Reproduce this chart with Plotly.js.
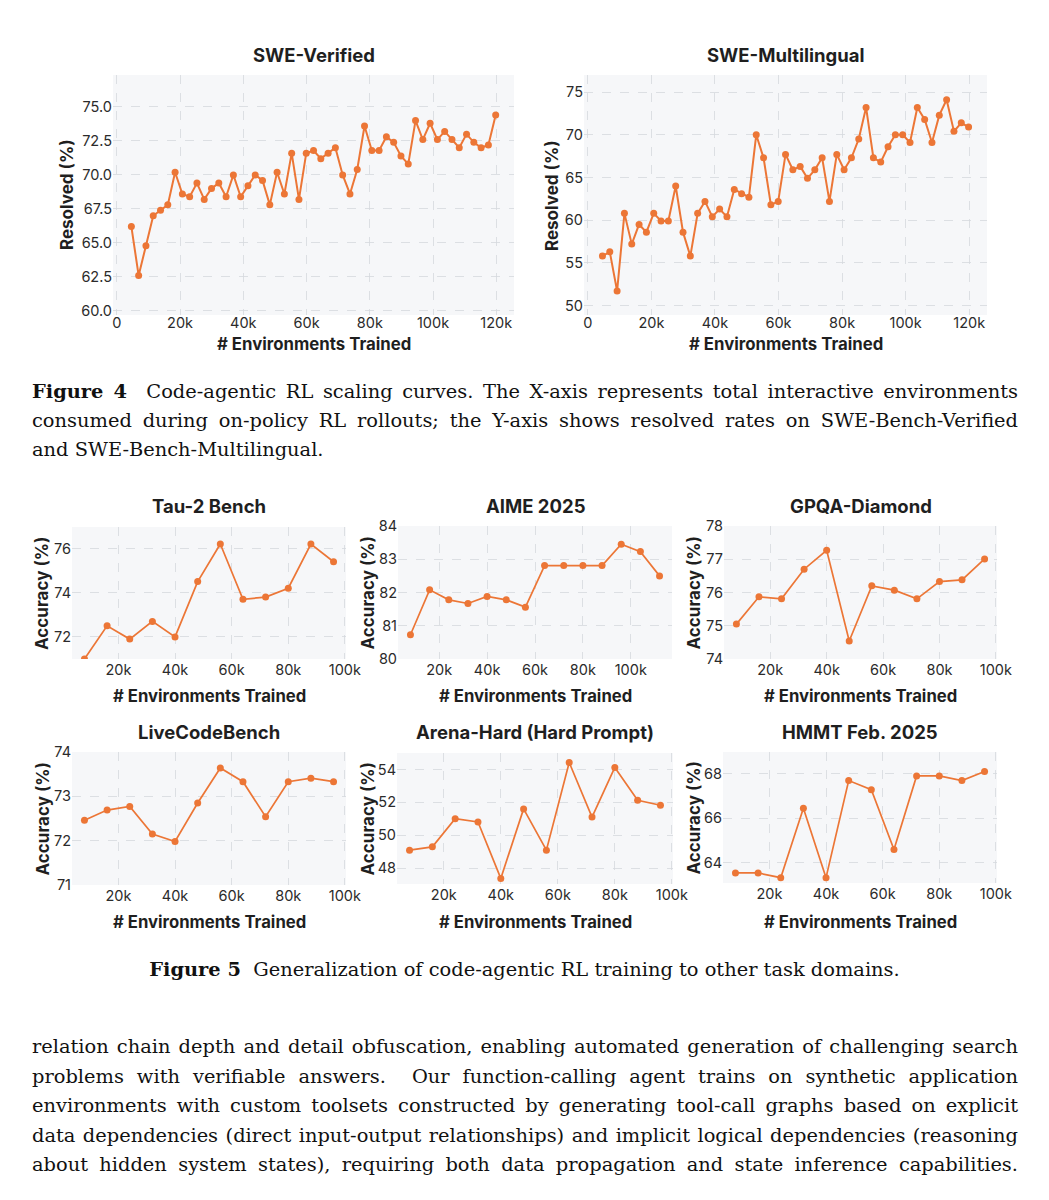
<!DOCTYPE html>
<html>
<head>
<meta charset="utf-8">
<script src="https://cdn.plot.ly/plotly-3.0.1.min.js"></script>
<style>
  html, body { margin:0; padding:0; background:#fff; }
  #wrap { position:relative; width:1049px; height:1200px; overflow:hidden; }
  #chart { position:absolute; left:0; top:0; width:1049px; height:1200px; }
  .ln { position:absolute; left:32px; width:986px; font-family:"DejaVu Serif", serif; font-size:19px;
        color:#111; white-space:nowrap; text-align:justify; text-align-last:justify; line-height:26px; z-index:5; }
  .ln.left { text-align:left; text-align-last:left; }
  .cap5 { position:absolute; left:0; width:1049px; text-align:center; font-family:"DejaVu Serif", serif;
          font-size:19px; color:#111; white-space:nowrap; line-height:26px; z-index:5; }
  #measure { position:absolute; left:0; top:0; visibility:hidden; white-space:nowrap; font-family:"DejaVu Serif", serif; }
</style>
</head>
<body>
<div id="wrap">
  <div id="chart"></div>
  <div class="ln" style="top:379px;"><b>Figure 4</b>&nbsp; Code-agentic RL scaling curves. The X-axis represents total interactive environments</div>
  <div class="ln" style="top:408px;">consumed during on-policy RL rollouts; the Y-axis shows resolved rates on SWE-Bench-Verified</div>
  <div class="ln left" style="top:437px;">and SWE-Bench-Multilingual.</div>
  <div class="cap5" style="top:957px;"><b>Figure 5</b>&nbsp; Generalization of code-agentic RL training to other task domains.</div>
  <div class="ln" style="top:1034px;">relation chain depth and detail obfuscation, enabling automated generation of challenging search</div>
  <div class="ln" style="top:1064px;">problems with verifiable answers.&nbsp; Our function-calling agent trains on synthetic application</div>
  <div class="ln" style="top:1093px;">environments with custom toolsets constructed by generating tool-call graphs based on explicit</div>
  <div class="ln" style="top:1123px;">data dependencies (direct input-output relationships) and implicit logical dependencies (reasoning</div>
  <div class="ln" style="top:1152px;">about hidden system states), requiring both data propagation and state inference capabilities.</div>
  <span id="measure"></span>
</div>
<script>
// ---------------- DATA ----------------
const sweSteps = [4608, 6912, 9216, 11520, 13824, 16128, 18432, 20736, 23040, 25344, 27648, 29952, 32256, 34560, 36864, 39168, 41472, 43776, 46080, 48384, 50688, 52992, 55296, 57600, 59904, 62208, 64512, 66816, 69120, 71424, 73728, 76032, 78336, 80640, 82944, 85248, 87552, 89856, 92160, 94464, 96768, 99072, 101376, 103680, 105984, 108288, 110592, 112896, 115200, 117504, 119808];
const sweVerified = [66.2, 62.6, 64.8, 67.0, 67.4, 67.8, 70.2, 68.6, 68.4, 69.4, 68.2, 69.0, 69.4, 68.4, 70.0, 68.4, 69.2, 70.0, 69.6, 67.8, 70.2, 68.6, 71.6, 68.2, 71.6, 71.8, 71.2, 71.6, 72.0, 70.0, 68.6, 70.4, 73.6, 71.8, 71.8, 72.8, 72.4, 71.4, 70.8, 74.0, 72.6, 73.8, 72.6, 73.2, 72.6, 72.0, 73.0, 72.4, 72.0, 72.2, 74.4];
const sweMultilingual = [55.8, 56.3, 51.7, 60.8, 57.2, 59.5, 58.6, 60.8, 59.9, 59.9, 64.0, 58.6, 55.8, 60.8, 62.2, 60.4, 61.3, 60.4, 63.6, 63.1, 62.7, 70.0, 67.3, 61.8, 62.2, 67.7, 65.9, 66.3, 64.9, 65.9, 67.3, 62.2, 67.7, 65.9, 67.3, 69.5, 73.2, 67.3, 66.8, 68.6, 70.0, 70.0, 69.1, 73.2, 71.8, 69.1, 72.3, 74.1, 70.4, 71.4, 70.9];

const genSteps  = [8000, 16000, 24000, 32000, 40000, 48000, 56000, 64000, 72000, 80000, 88000, 96000];
const aimeSteps = [8000, 16000, 24000, 32000, 40000, 48000, 56000, 64000, 72000, 80000, 88000, 96000, 104000, 112000];
const tau2Bench = [71.0, 72.5, 71.9, 72.7, 72.0, 74.5, 76.2, 73.7, 73.8, 74.2, 76.2, 75.4];
const aime2025  = [80.73, 82.08, 81.78, 81.67, 81.88, 81.78, 81.56, 82.81, 82.81, 82.81, 82.81, 83.45, 83.23, 82.5];
const gpqaDiamond = [75.05, 75.87, 75.81, 76.70, 77.27, 74.54, 76.20, 76.07, 75.81, 76.33, 76.38, 77.01];
const liveCodeBench = [72.46, 72.69, 72.77, 72.15, 71.98, 72.85, 73.64, 73.33, 72.54, 73.33, 73.41, 73.33];
const arenaHard = [49.09, 49.29, 51.0, 50.8, 47.37, 51.6, 49.09, 54.42, 51.1, 54.12, 52.12, 51.82];
const hmmtFeb2025 = [63.55, 63.55, 63.34, 66.45, 63.34, 67.69, 67.28, 64.6, 67.9, 67.9, 67.69, 68.1];

const xTickVals = [0, 20000, 40000, 60000, 80000, 100000, 120000];
const xTickText = ["0", "20k", "40k", "60k", "80k", "100k", "120k"];

const panelTitles = ["SWE-Verified", "SWE-Multilingual", "Tau-2 Bench", "AIME 2025", "GPQA-Diamond",
                     "LiveCodeBench", "Arena-Hard (Hard Prompt)", "HMMT Feb. 2025"];
const xLabel = "# Environments Trained";
const yLabelsTop = "Resolved (%)";
const yLabelsBottom = "Accuracy (%)";

// ---------------- LAYOUT ----------------
const W = 1049, H = 1200;
const fx = p => p / W;
const fy = p => 1 - p / H;
const ORANGE = "#EC7636";

const panels = [
  {x: sweSteps, y: sweVerified, dom: [113, 514, 75, 315], xr: [-1200, 125600], yr: [59.7, 77.35],
   yt: [60, 62.5, 65, 67.5, 70, 72.5, 75], yfmt: ".1f", titleY: 55, xtY: 344, ytX: 67, big: true},
  {x: sweSteps, y: sweMultilingual, dom: [584, 987, 75, 315], xr: [-1200, 125600], yr: [48.9, 77.0],
   yt: [50, 55, 60, 65, 70, 75], yfmt: "d", titleY: 55, xtY: 344, ytX: 552, big: true},
  {x: genSteps, y: tau2Bench, dom: [72, 346, 527, 659], xr: [3600, 100400], yr: [71.0, 76.97],
   yt: [72, 74, 76], yfmt: "d", titleY: 506, xtY: 696, ytX: 42},
  {x: aimeSteps, y: aime2025, dom: [398, 672, 526, 659], xr: [2800, 117200], yr: [80, 84],
   yt: [80, 81, 82, 83, 84], yfmt: "d", titleY: 506, xtY: 696, ytX: 367},
  {x: genSteps, y: gpqaDiamond, dom: [724, 997, 526, 659], xr: [3600, 100400], yr: [74, 78],
   yt: [74, 75, 76, 77, 78], yfmt: "d", titleY: 506, xtY: 696, ytX: 693},
  {x: genSteps, y: liveCodeBench, dom: [72, 346, 752, 885], xr: [3600, 100400], yr: [71, 74],
   yt: [71, 72, 73, 74], yfmt: "d", titleY: 732, xtY: 922, ytX: 42},
  {x: genSteps, y: arenaHard, dom: [397, 673, 753, 884], xr: [3600, 100400], yr: [47.03, 55.0],
   yt: [48, 50, 52, 54], yfmt: "d", titleY: 732, xtY: 922, ytX: 367},
  {x: genSteps, y: hmmtFeb2025, dom: [723, 997, 752, 883], xr: [3600, 100400], yr: [63.1, 68.97],
   yt: [64, 66, 68], yfmt: "d", titleY: 732, xtY: 922, ytX: 693}
];

const traces = [];
const layout = {
  width: W, height: H,
  margin: {l: 0, r: 0, t: 0, b: 0},
  paper_bgcolor: "#ffffff",
  plot_bgcolor: "#F6F7F9",
  showlegend: false,
  annotations: []
};

const tickFont = {family: "Inter, 'Open Sans', sans-serif", size: 14.5, color: "#2b2b2b"};
const boldFont = (s) => ({family: "Inter, 'Open Sans', sans-serif", size: s, color: "#1f1f1f", weight: 700});

panels.forEach((p, i) => {
  const n = i + 1;
  const xa = n === 1 ? "xaxis" : "xaxis" + n;
  const ya = n === 1 ? "yaxis" : "yaxis" + n;
  traces.push({
    type: "scatter", mode: "lines+markers",
    x: p.x, y: p.y,
    xaxis: "x" + (n === 1 ? "" : n), yaxis: "y" + (n === 1 ? "" : n),
    line: {color: ORANGE, width: p.big ? 2 : 1.7},
    marker: {color: ORANGE, size: 7},
    cliponaxis: true,
    hoverinfo: "skip"
  });
  const [l, r, t, b] = p.dom;
  layout[xa] = {
    domain: [fx(l), fx(r)], anchor: "y" + (n === 1 ? "" : n),
    range: p.xr, tickvals: xTickVals, ticktext: xTickText,
    showgrid: true, gridcolor: "#d6d8dd", griddash: "dash", gridwidth: 0.8,
    zeroline: false, showline: false, ticks: "", tickfont: tickFont, fixedrange: true,
    ticklabelstandoff: p.big ? -3 : 0
  };
  layout[ya] = {
    domain: [fy(b), fy(t)], anchor: "x" + (n === 1 ? "" : n),
    range: p.yr, tickvals: p.yt, tickformat: p.yfmt,
    showgrid: true, gridcolor: "#d6d8dd", griddash: "dash", gridwidth: 0.8,
    zeroline: false, showline: false, ticks: "", tickfont: tickFont, fixedrange: true
  };
  const cx = (l + r) / 2;
  layout.annotations.push({text: panelTitles[i], xref: "paper", yref: "paper",
    x: fx(cx), y: fy(p.titleY), xanchor: "center", yanchor: "middle", showarrow: false,
    font: boldFont(18.5)});
  layout.annotations.push({text: xLabel, xref: "paper", yref: "paper",
    x: fx(cx), y: fy(p.xtY), xanchor: "center", yanchor: "middle", showarrow: false,
    font: boldFont(p.big ? 16.8 : 16.7)});
  layout.annotations.push({text: p.big ? yLabelsTop : yLabelsBottom, xref: "paper", yref: "paper",
    x: fx(p.ytX), y: fy((t + b) / 2), xanchor: "center", yanchor: "middle", showarrow: false,
    textangle: -90, font: boldFont(17)});
});

Plotly.newPlot("chart", traces, layout, {displayModeBar: false, staticPlot: true});

// Fit serif text so the widest justified line fits the text block
(function fitText() {
  const m = document.getElementById("measure");
  const lines = Array.from(document.querySelectorAll(".ln"));
  const base = 20;
  m.style.fontSize = base + "px";
  let maxW = 0;
  lines.forEach(el => { m.innerHTML = el.innerHTML; maxW = Math.max(maxW, m.getBoundingClientRect().width); });
  m.remove();
  let size = base * 975 / maxW;
  if (size > 21) size = 21;
  lines.forEach(el => { el.style.fontSize = size + "px"; });
  document.querySelector(".cap5").style.fontSize = size + "px";
})();
</script>
</body>
</html>
